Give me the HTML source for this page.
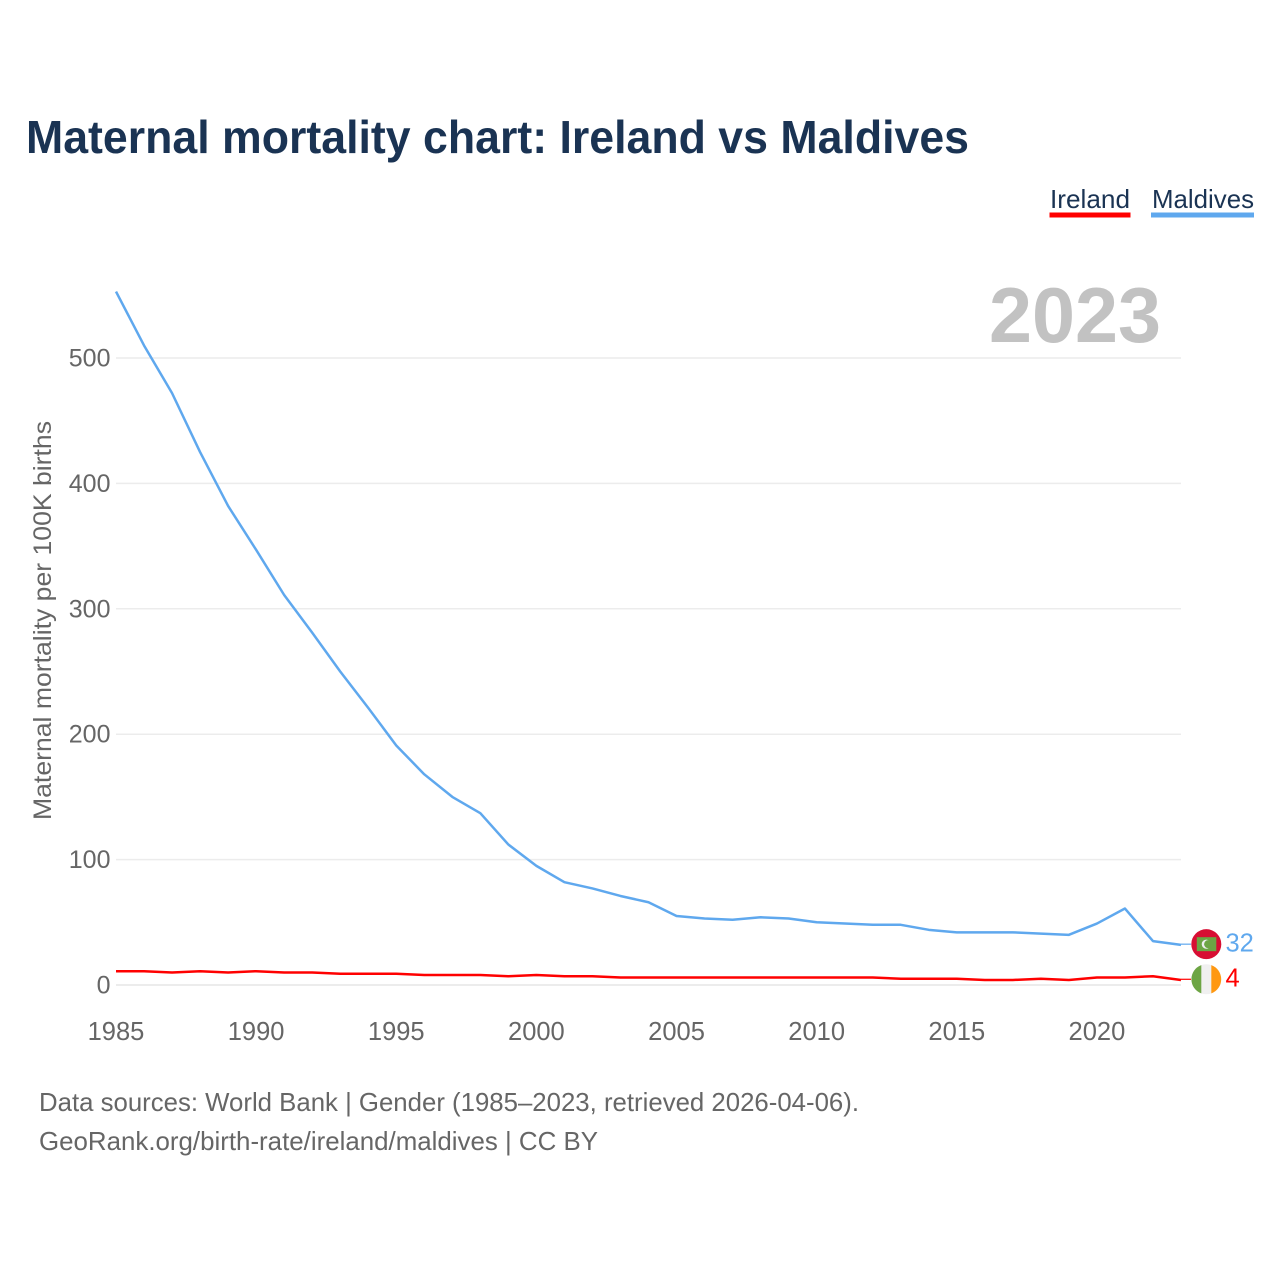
<!DOCTYPE html>
<html lang="en">
<head>
<meta charset="utf-8">
<title>Maternal mortality chart: Ireland vs Maldives</title>
<style>
html,body{margin:0;padding:0;background:#fff;width:1280px;height:1280px;overflow:hidden}
svg{display:block}
text{font-family:"Liberation Sans",sans-serif}
</style>
</head>
<body>
<svg id="chart" xmlns="http://www.w3.org/2000/svg" width="1280" height="1280" viewBox="0 0 1280 1280">
  <rect width="1280" height="1280" fill="#fff"/>
  <text x="26" y="153" font-size="46" font-weight="700" fill="#1a3353" textLength="943" lengthAdjust="spacingAndGlyphs">Maternal mortality chart: Ireland vs Maldives</text>

  <g>
    <text x="1050" y="208" font-size="26" fill="#1a3353" textLength="80" lengthAdjust="spacingAndGlyphs">Ireland</text>
    <rect x="1049.5" y="212.5" width="81" height="5" fill="#ff0000"/>
  </g>
  <g>
    <text x="1152" y="208" font-size="26" fill="#1a3353" textLength="102" lengthAdjust="spacingAndGlyphs">Maldives</text>
    <rect x="1151" y="212.5" width="103" height="5" fill="#5fa8ee"/>
  </g>

  <g id="grid"></g>
  <text x="989" y="342" font-size="78" font-weight="700" fill="#c2c2c2" textLength="172" lengthAdjust="spacingAndGlyphs">2023</text>
  <text transform="translate(51,620.5) rotate(-90)" text-anchor="middle" font-size="25" fill="#666" textLength="399" lengthAdjust="spacingAndGlyphs">Maternal mortality per 100K births</text>
  <g id="yticks"></g>
  <g id="xticks"></g>
  <g id="series"></g>
  <g id="ends"></g>

  <text x="39" y="1111" font-size="26" fill="#666" textLength="820" lengthAdjust="spacingAndGlyphs">Data sources: World Bank | Gender (1985–2023, retrieved 2026-04-06).</text>
  <text x="39" y="1150" font-size="26" fill="#666" textLength="559" lengthAdjust="spacingAndGlyphs">GeoRank.org/birth-rate/ireland/maldives | CC BY</text>
</svg>
<script>
const years = [1985,1986,1987,1988,1989,1990,1991,1992,1993,1994,1995,1996,1997,1998,1999,2000,2001,2002,2003,2004,2005,2006,2007,2008,2009,2010,2011,2012,2013,2014,2015,2016,2017,2018,2019,2020,2021,2022,2023];
const maldives = [553,510,472,425,382,347,311,281,250,221,191,168,150,137,112,95,82,77,71,66,55,53,52,54,53,50,49,48,48,44,42,42,42,41,40,49,61,35,32];
const ireland = [11,11,10,11,10,11,10,10,9,9,9,8,8,8,7,8,7,7,6,6,6,6,6,6,6,6,6,6,5,5,5,4,4,5,4,6,6,7,4];
const yTickValues = [0,100,200,300,400,500];
const xTickValues = [1985,1990,1995,2000,2005,2010,2015,2020];

const NS = 'http://www.w3.org/2000/svg';
function xScale(year){ return 116 + (year - 1985) * (1181 - 116) / (2023 - 1985); }
function yScale(v){ return 985 - v * (985 - 358) / 500; }
function make(tag, attrs, parent){
  const el = document.createElementNS(NS, tag);
  for (const k in attrs) el.setAttribute(k, attrs[k]);
  parent.appendChild(el);
  return el;
}
const grid = document.getElementById('grid');
const yticks = document.getElementById('yticks');
const xticks = document.getElementById('xticks');
const seriesG = document.getElementById('series');
const ends = document.getElementById('ends');

yTickValues.forEach(function(v){
  const line = make('line', {x1:116, x2:1181, y1:yScale(v), y2:yScale(v), stroke:'#ececec', 'stroke-width':v === 0 ? 2 : 1.5}, grid);
  
  
  const t = make('text', {x:110.5, y:yScale(v) + 8.5, 'text-anchor':'end', 'font-size':25, fill:'#666'}, yticks);
  t.textContent = String(v);
  
  
});
xTickValues.forEach(function(y){
  const t = make('text', {x:xScale(y), y:1040, 'text-anchor':'middle', 'font-size':25.5, fill:'#666'}, xticks);
  t.textContent = String(y);
  
  
});
function linePoints(values){
  return values.map(function(v, i){ return xScale(years[i]).toFixed(2) + ',' + yScale(v).toFixed(2); }).join(' ');
}
const irelandLine = make('polyline', {points:linePoints(ireland), fill:'none', stroke:'#ff0000', 'stroke-width':2.5, 'stroke-linejoin':'round'}, seriesG);


const maldivesLine = make('polyline', {points:linePoints(maldives), fill:'none', stroke:'#5fa8ee', 'stroke-width':2.5, 'stroke-linejoin':'round'}, seriesG);



function endMarker(values, color, key, drawFlag){
  const last = values[values.length - 1];
  const cy = yScale(last) - 0.7;
  const x0 = xScale(years[years.length - 1]);
  const c = make('line', {x1:x0, x2:1191, y1:cy, y2:cy, stroke:color, 'stroke-width':1.2}, ends);
  
  
  const g = make('g', {transform:'translate(1206.3,' + cy + ')'}, ends);
  
  
  drawFlag(g);
  const t = make('text', {x:1225.5, y:cy + 7.3, 'font-size':25.5, fill:color}, ends);
  t.textContent = String(last);
  
  
}
endMarker(maldives, '#5fa8ee', 'maldives', function(g){
  make('circle', {r:15, fill:'#d80e33'}, g);
  make('rect', {x:-9.5, y:-7, width:19.5, height:14, fill:'#6da544'}, g);
  make('circle', {cx:0, cy:0, r:4.6, fill:'#eeeeee'}, g);
  make('circle', {cx:1.8, cy:0, r:4, fill:'#6da544'}, g);
});
endMarker(ireland, '#ff0000', 'ireland', function(g){
  make('circle', {r:15, fill:'#f0f0f0'}, g);
  make('path', {d:'M-5,-14.1A15,15 0 0 0 -5,14.1Z', fill:'#6da544'}, g);
  make('path', {d:'M5,-14.1A15,15 0 0 1 5,14.1Z', fill:'#ff9811'}, g);
});
</script>
</body>
</html>
